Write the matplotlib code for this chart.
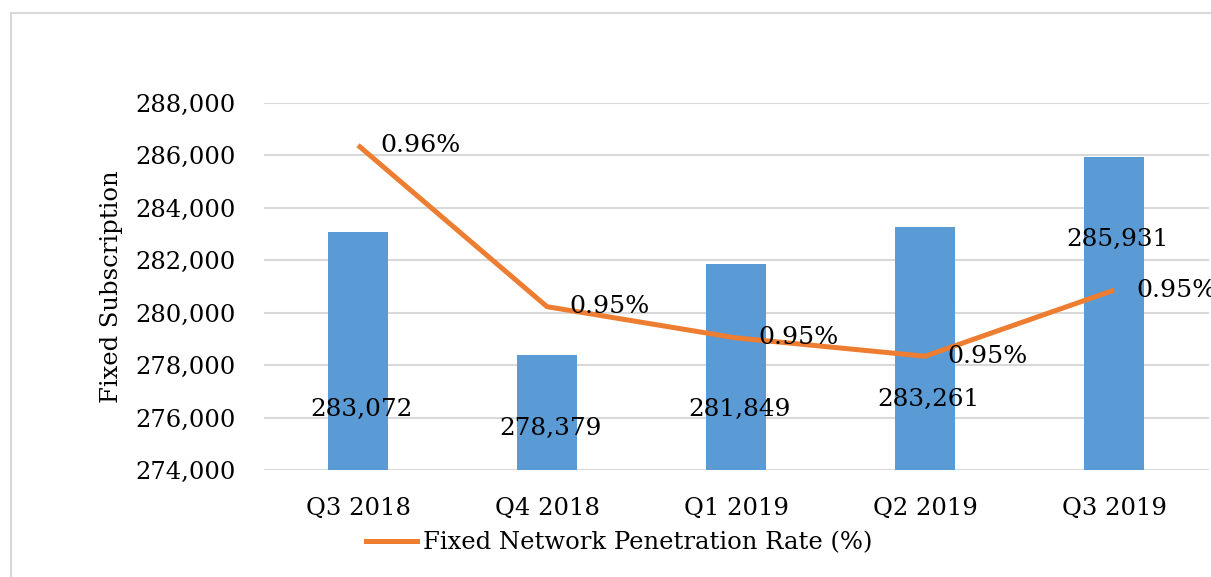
import matplotlib
matplotlib.use("Agg")
import matplotlib.pyplot as plt
from matplotlib.lines import Line2D
from matplotlib.ticker import FuncFormatter

quarters = ["Q3 2018", "Q4 2018", "Q1 2019", "Q2 2019", "Q3 2019"]
subscriptions = [283072, 278379, 281849, 283261, 285931]
penetration = [0.9577, 0.9489, 0.9472, 0.9462, 0.9498]  # percent

# where the bar labels were dragged to (in subscription units)
bar_label_y = [276300, 275600, 276300, 276700, 282800]

plt.rcParams['font.family'] = ['DejaVu Serif']

W, H = 1211, 577
fig = plt.figure(figsize=(W / 100, H / 100), dpi=100)

ax = fig.add_axes([263.5 / W, 1 - 470 / H, 945 / W, 367 / H])
x = list(range(len(quarters)))
ax.bar(x, subscriptions, width=0.32, color="#5b9bd5", zorder=2)
ax.set_xlim(-0.5, len(quarters) - 0.5)
ax.set_ylim(274000, 288000)
ax.set_yticks(range(274000, 288001, 2000))
ax.yaxis.set_major_formatter(FuncFormatter(lambda v, p: f"{int(v):,}"))
ax.set_xticks(x)
ax.set_xticklabels(quarters)
ax.tick_params(axis="both", length=0, labelsize=17.5)
ax.tick_params(axis="y", pad=20)
ax.tick_params(axis="x", pad=19)
ax.grid(axis="y", color="#d9d9d9", linewidth=1.5, zorder=0)
for s in ax.spines.values():
    s.set_visible(False)
ax.set_ylabel("Fixed Subscription", fontsize=17.5, labelpad=9)

for i, v in enumerate(subscriptions):
    ax.text(i + 0.02, bar_label_y[i], f"{v:,}", ha="center", va="center", fontsize=17.8, zorder=4)

ax2 = ax.twinx()
ax2.set_ylim(0.940, 0.960)
ax2.plot(x, penetration, color="#ed7d31", linewidth=3.6, solid_capstyle="butt", zorder=3)
ax2.set_yticks([])
for s in ax2.spines.values():
    s.set_visible(False)
for i, v in enumerate(penetration):
    ax2.annotate(f"{v:.2f}%", (i, v), xytext=(16, 0), textcoords="offset points",
                 ha="left", va="center", fontsize=18.2, annotation_clip=False)

# legend (bar entry removed like the original)
fig.legend(handles=[Line2D([], [], color="#ed7d31", linewidth=3.6)],
           labels=["Fixed Network Penetration Rate (%)"],
           loc="center", bbox_to_anchor=(619 / W, 1 - 543 / H), frameon=False,
           fontsize=17.5, handlelength=2.1, handletextpad=0.25)

# chart border (cropped at right/bottom)
fig.add_artist(Line2D([11 / W, 11 / W], [0, 1 - 13 / H], color="#d9d9d9", linewidth=1.5))
fig.add_artist(Line2D([11 / W, 1.01], [1 - 13 / H, 1 - 13 / H], color="#d9d9d9", linewidth=1.5))

fig.savefig("out.png", dpi=100)
